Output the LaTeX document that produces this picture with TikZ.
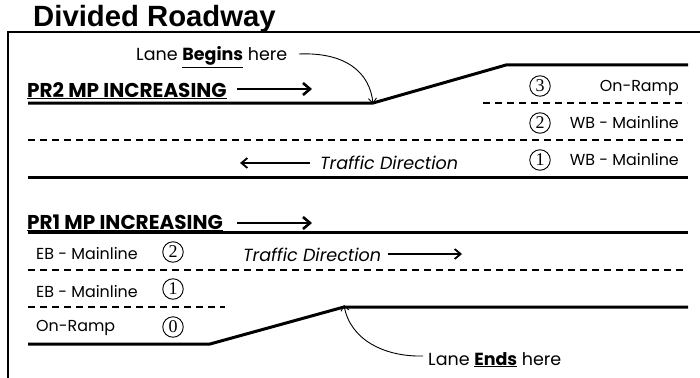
\documentclass[tikz,border=0pt]{standalone}
\usepackage{fontspec}
\setmainfont{Poppins}
\newfontfamily\titlefont{Liberation Sans}
\newfontfamily\numfont{Liberation Serif}
\usetikzlibrary{arrows.meta}
\begin{document}
\begin{tikzpicture}[x=1pt,y=-1pt,
 road/.style={line width=3pt},
 lanedash/.style={line width=1.3pt, dash pattern=on 7pt off 5pt},
 bigarrow/.style={line width=2.6pt, -{Straight Barb[length=7pt,width=12pt]}},
 dirarrow/.style={line width=1.8pt, -{Straight Barb[length=6pt,width=10pt]}},
 callout/.style={line width=0.9pt, -{Straight Barb[length=5pt,width=8pt]}},
 lbl/.style={inner sep=0pt, font=\fontsize{15.9}{18}\selectfont},
 calllbl/.style={inner sep=0pt, font=\fontsize{17.5}{20}\selectfont},
 dirlbl/.style={inner sep=0pt, font=\fontsize{17.6}{20}\selectfont\itshape},
 hdr/.style={inner sep=0pt, font=\fontsize{20}{22}\selectfont\bfseries},
 num/.style={circle, draw, line width=0.9pt, minimum size=20.5pt, inner sep=0pt, font=\fontsize{18}{18}\selectfont\numfont}]
\useasboundingbox (0,0) rectangle (700,377);
\fill[white] (0,0) rectangle (700,377);
% title and frame
\node[inner sep=0pt, anchor=base west, font=\fontsize{29.3}{31}\selectfont\titlefont\bfseries] (title) at (33,27) {Divided Roadway};
\draw[line width=1.5pt] (8,420) -- (8,32) -- (720,32);

% ---- PR2 ----
\coordinate (b1) at (28,103);
\coordinate (b2) at (373,103);
\coordinate (b3) at (506,65);
\coordinate (b4) at (688,65);
\draw[road] (b1) -- (b2) -- (b3) -- (b4);
\draw[lanedash] (483,103) -- (687,103);
\draw[lanedash] (28,140) -- (687,140);
\draw[road] (28,177) -- (688,177);

\node[hdr, anchor=base west] (pr2) at (27,97) {\underline{PR2 MP INCREASING}};
\coordinate (pr2a) at (237,89);
\coordinate (pr2b) at (312,89);
\draw[bigarrow] (pr2a) -- (pr2b);

\node[calllbl, anchor=base west] (begins) at (136,61) {Lane \textbf{\underline{Begins}} here};
\coordinate (bc) at (299,54);
\draw[callout] (bc) .. controls (345,52) and (370,72) .. ([yshift=-1pt]b2);

\node[dirlbl, anchor=base west] (td2) at (320,169) {Traffic Direction};
\coordinate (t2a) at (310,163);
\coordinate (t2b) at (240,163);
\draw[dirarrow] (t2a) -- (t2b);

\node[num] (n3) at (540,86) {3};
\node[num] (n2w) at (540,123) {2};
\node[num] (n1w) at (540,160) {1};
\node[lbl, anchor=base east] (onr2) at (679,92) {On-Ramp};
\node[lbl, anchor=base east] (wb2) at (679,128) {WB - Mainline};
\node[lbl, anchor=base east] (wb1) at (679,165) {WB - Mainline};

% ---- PR1 ----
\node[hdr, anchor=base west] (pr1) at (27,229) {\underline{PR1 MP INCREASING}};
\coordinate (pr1a) at (237,223);
\coordinate (pr1b) at (312,223);
\draw[bigarrow] (pr1a) -- (pr1b);

\draw[road] (28,232) -- (688,232);
\draw[lanedash] (28,270) -- (685,270);
\draw[lanedash] (28,307) -- (225,307);
\coordinate (e1) at (28,344);
\coordinate (e2) at (210,344);
\coordinate (e3) at (344,307);
\coordinate (e4) at (688,307);
\draw[road] (e1) -- (e2) -- (e3) -- (e4);

\node[lbl, anchor=base west] (eb2) at (36,259) {EB - Mainline};
\node[lbl, anchor=base west] (eb1) at (36,297) {EB - Mainline};
\node[lbl, anchor=base west] (onr1) at (36,331) {On-Ramp};
\node[num] (n2e) at (173,252) {2};
\node[num] (n1e) at (173,289) {1};
\node[num] (n0e) at (173,327) {0};

\node[dirlbl, anchor=base west] (td1) at (243,261) {Traffic Direction};
\coordinate (t1a) at (388,254);
\coordinate (t1b) at (462,254);
\draw[dirarrow] (t1a) -- (t1b);

\node[calllbl, anchor=base west] (ends) at (428,365) {Lane \textbf{\underline{Ends}} here};
\coordinate (ec) at (423,356);
\draw[callout] (ec) .. controls (385,357) and (350,340) .. ([yshift=2pt]e3);
\end{tikzpicture}
\end{document}
